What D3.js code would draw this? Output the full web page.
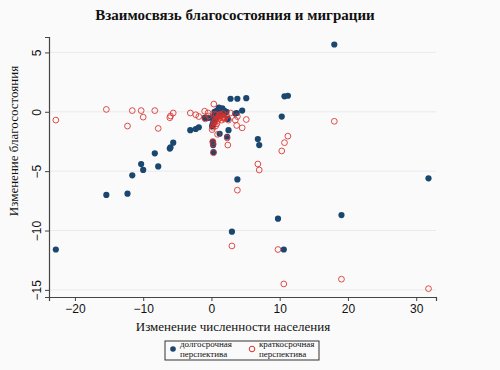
<!DOCTYPE html>
<html>
<head>
<meta charset="utf-8">
<script src="https://cdn.jsdelivr.net/npm/d3@7"></script>
<style>
  body { margin: 0; background: #fafafa; }
  #canvas { width: 500px; height: 370px; }
</style>
</head>
<body>
<div id="canvas"></div>
<script>
// population change (x) and wealth change: long-term / short-term
const popChange = [-22.8, -15.4, -12.3, -11.6, -10.3, -10.0, -8.3, -7.8, -6.1, -6.0, -5.6,
  -3.1, -2.3, -1.85, -1.0, -0.5, 0.35, 0.2, 0.3, 0.25, 1.2, 0.9, 2.5, 2.3, 2.4, 2.8, 3.8, 3.7,
  4.5, 5.1, 3.8, 3.0, 6.8, 7.0, 9.75, 10.3, 10.7, 11.2, 10.6, 18.0, 19.05, 31.8,
  1.6, 1.9, 0.5, 0.8, 1.0, 1.3, 0.6, 1.5, 2.2, 0.1, 0.4, 1.1, 0.7, -0.9, -0.4, 3.5, 1.8,
  0.3, 0.9, 1.4, 0.2, 0.6, 1.7, 2.0, 0.45];
const wealthLong = [-11.6, -7.0, -6.9, -5.35, -4.4, -4.9, -3.5, -4.6, -3.1, -3.0, -2.6,
  -1.55, -1.45, -1.3, -0.5, -0.5, -0.85, -2.55, -3.4, -2.8, -1.85, -0.2, -1.55, -2.1, -0.6, 1.1, 1.1, -0.1,
  0.1, 1.15, -5.7, -10.1, -2.3, -2.8, -9.0, -0.4, 1.3, 1.35, -11.6, 5.67, -8.7, -5.6,
  0.3, 0.05, -0.3, 0.1, -0.1, 0.2, -0.6, 0.0, 0.0, -1.2, -0.4, 0.35, -0.2, -0.5, -0.5, -0.15, 0.1,
  -0.7, -0.35, 0.15, -1.0, -0.1, -0.25, -0.05, 0.0];
const wealthShort = [-0.7, 0.2, -1.2, 0.1, 0.1, -0.45, 0.1, -1.4, -0.5, -0.35, -0.1,
  -0.1, -0.25, -0.4, 0.05, -0.1, 0.65, -2.5, -3.45, -2.7, -0.3, -1.9, -0.7, -2.2, -2.8, -0.1, -0.4, -1.15,
  -1.35, -0.65, -6.6, -11.3, -4.4, -4.9, -11.6, -3.3, -2.6, -2.05, -14.5, -0.8, -14.1, -14.9,
  -0.5, -0.6, -0.8, -1.0, -0.4, -0.2, -1.2, -0.7, -0.3, -1.5, -0.9, -0.55, -0.25, -0.6, -0.35, -0.7, -0.45,
  -1.1, -0.75, -0.3, -1.3, -0.65, -0.15, -0.5, -0.2];

const xTicks = [-20, -10, 0, 10, 20, 30];
const yTicks = [-15, -10, -5, 0, 5];
const seriesNames = [["долгосрочная", "перспектива"], ["краткосрочная", "перспектива"]];

const width = 500;
const height = 370;
const margin = { top: 37, left: 49, bottom: 73, right: 64 };
const iwidth = width - margin.left - margin.right;
const iheight = height - margin.top - margin.bottom;

const blue = "#1a476f";
const red = "#d9302c";

const svg = d3.select("#canvas").append("svg")
  .attr("width", width).attr("height", height)
  .style("font-family", "'Liberation Serif', 'Times New Roman', serif");

svg.append("rect").attr("width", width).attr("height", height).attr("fill", "#fafafa");

const x = d3.scaleLinear().domain([-23.8, 32.9]).range([0, iwidth]);
const y = d3.scaleLinear().domain([-15.6, 6.3]).range([iheight, 0]);

const g = svg.append("g").attr("transform", `translate(${margin.left},${margin.top})`);

// grid
g.selectAll(".grid").data(yTicks).enter().append("line")
  .attr("x1", 0).attr("x2", iwidth)
  .attr("y1", d => y(d)).attr("y2", d => y(d))
  .attr("stroke", "#eaeaea").attr("stroke-width", 1);

// axes
const xAxis = g.append("g").attr("transform", `translate(0,${iheight})`)
  .call(d3.axisBottom(x).tickValues(xTicks).tickSize(4).tickPadding(3));
const yAxis = g.append("g")
  .call(d3.axisLeft(y).tickValues(yTicks).tickSize(4).tickPadding(3));

[xAxis, yAxis].forEach(a => {
  a.select(".domain").attr("stroke", "#444").attr("stroke-width", 1.2);
  a.selectAll(".tick line").attr("stroke", "#444");
  a.selectAll("text").attr("fill", "#111")
    .style("font-family", "'Liberation Sans', Arial, sans-serif").style("font-size", "12px");
});
yAxis.selectAll(".tick text")
  .attr("text-anchor", "middle")
  .attr("transform", "translate(-12,0) rotate(-90)")
  .attr("x", 0).attr("dy", "0.32em");

// long-term filled, short-term hollow on top
const pts = popChange.map((v, i) => ({ x: v, long: wealthLong[i], short: wealthShort[i] }));

g.selectAll(".lt").data(pts).enter().append("circle")
  .attr("cx", d => x(d.x)).attr("cy", d => y(d.long)).attr("r", 3.1)
  .attr("fill", blue);

g.selectAll(".st").data(pts).enter().append("circle")
  .attr("cx", d => x(d.x)).attr("cy", d => y(d.short)).attr("r", 2.9)
  .attr("fill", "none").attr("stroke", red).attr("stroke-opacity", 0.85).attr("stroke-width", 1);

// title and labels
svg.append("text").attr("x", 235).attr("y", 20).attr("text-anchor", "middle")
  .style("font-size", "15px").style("font-weight", "bold").attr("fill", "#111")
  .text("Взаимосвязь благосостояния и миграции");

svg.append("text").attr("x", 233).attr("y", 331).attr("text-anchor", "middle")
  .style("font-size", "13px").attr("fill", "#111")
  .text("Изменение численности населения");

svg.append("text").attr("transform", "translate(18,141) rotate(-90)").attr("text-anchor", "middle")
  .style("font-size", "13px").attr("fill", "#111")
  .text("Изменение благосостояния");

// legend
const lg = svg.append("g").attr("transform", "translate(165,341)");
lg.append("rect").attr("width", 154).attr("height", 19)
  .attr("fill", "#fafafa").attr("stroke", "#333").attr("stroke-width", 1);
const items = lg.selectAll(".item").data(seriesNames).enter().append("g")
  .attr("transform", (d, i) => `translate(${i ? 87 : 8},0)`);
items.append("circle").attr("cx", 0).attr("cy", 8).attr("r", 2.8)
  .attr("fill", (d, i) => i ? "none" : blue)
  .attr("stroke", (d, i) => i ? red : "none").attr("stroke-width", 1);
items.each(function(d) {
  const t = d3.select(this).append("text").attr("x", 7).attr("y", 6)
    .style("font-size", "9px").attr("fill", "#111");
  d.forEach((line, k) => t.append("tspan").attr("x", 7).attr("dy", k ? 10 : 0).text(line));
});
</script>
</body>
</html>
